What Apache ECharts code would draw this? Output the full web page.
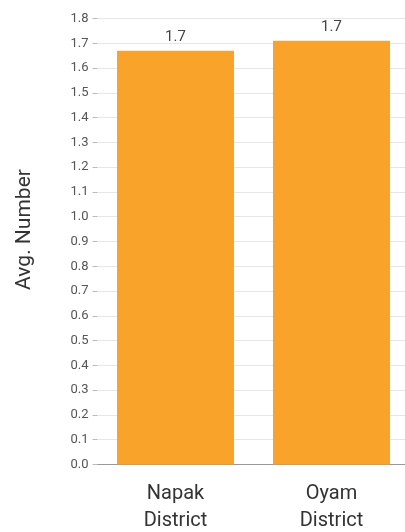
<!DOCTYPE html>
<html><head><meta charset="utf-8">
<script src="https://cdn.jsdelivr.net/npm/echarts@6/dist/echarts.min.js"></script>
<style>html,body{margin:0;padding:0;background:#fff}#c{width:405px;height:532px}</style>
</head><body><div id="c"></div>
<script>
const categories = ["Napak\nDistrict", "Oyam\nDistrict"];
const values = [1.67, 1.71];
const yMin = 0, yMax = 1.8, yStep = 0.1;

const chart = echarts.init(document.getElementById('c'), null, {renderer: 'canvas'});
chart.setOption({
  animation: false,
  textStyle: {fontFamily: 'Roboto'},
  grid: {left: 97.5, right: -4.5, top: 18.5, bottom: 67.5, containLabel: false, outerBoundsMode: 'none'},
  xAxis: {
    type: 'category', data: categories,
    axisLine: {lineStyle: {color: '#999', width: 1}},
    axisTick: {show: false},
    axisLabel: {fontSize: 20, color: '#333', lineHeight: 27, margin: 16, fontFamily: 'Roboto'}
  },
  yAxis: {
    type: 'value', min: yMin, max: yMax, interval: yStep,
    name: 'Avg. Number', nameLocation: 'middle', nameGap: 62,
    nameTextStyle: {fontSize: 21, color: '#333', fontFamily: 'Roboto', padding: [0, 0, 0, 24]},
    axisLine: {show: false},
    axisTick: {show: true, length: 5, lineStyle: {color: '#bbb'}},
    splitLine: {lineStyle: {color: '#e6e6e6'}},
    axisLabel: {fontSize: 13, color: '#555', margin: 9, formatter: v => v.toFixed(1)}
  },
  series: [{
    type: 'bar', data: values, barWidth: '75%',
    itemStyle: {color: '#F9A32B'},
    label: {show: true, position: 'top', fontSize: 15, color: '#444', distance: 6, formatter: p => p.value.toFixed(1)}
  }]
});
</script></body></html>
